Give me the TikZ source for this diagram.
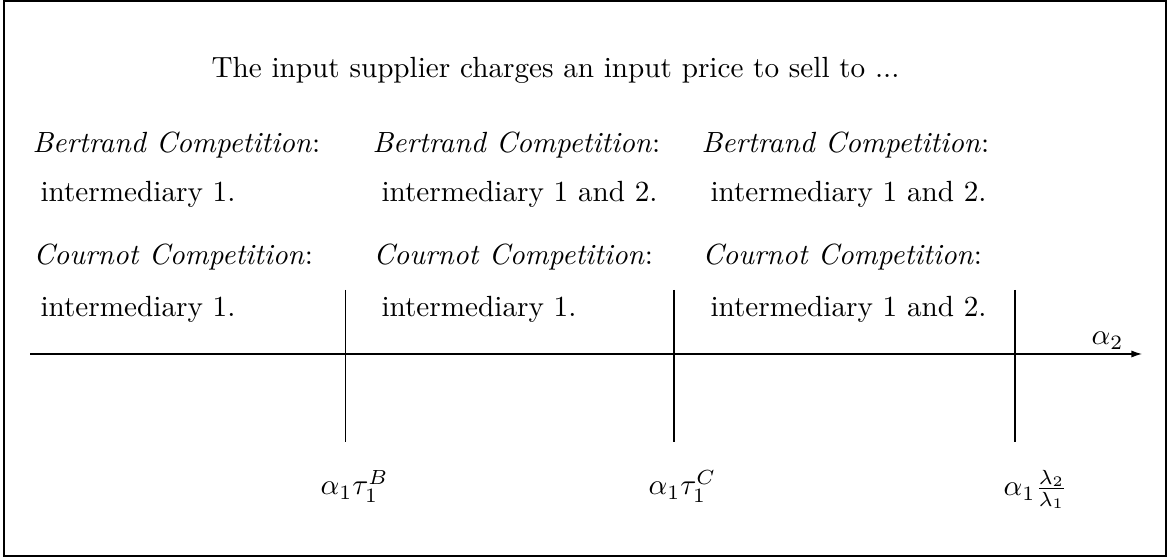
\documentclass[tikz,border=0pt]{standalone}
\usetikzlibrary{arrows.meta}
\begin{document}
\begin{tikzpicture}[x=0.34247pt,y=-0.34247pt,
  txt/.style={inner sep=0pt, anchor=base west},
  mth/.style={inner sep=0pt, anchor=base west},
  thin line/.style={line width=0.4pt},
  ]
\useasboundingbox (0,0) rectangle (1168,559);
\draw[thin line] (4,1) rectangle (1166,556);
% title
\node[inner sep=0pt, anchor=base] (title) at (555.5,78) {The input supplier charges an input price to sell to ...};
% column 1
\node[txt] (b1) at (32,153) {\textit{Bertrand Competition}:};
\node[txt] (b1t) at (40,202) {intermediary 1.};
\node[txt] (c1) at (33,265) {\textit{Cournot Competition}:};
\node[txt] (c1t) at (40,317) {intermediary 1.};
% column 2
\node[txt] (b2) at (372,153) {\textit{Bertrand Competition}:};
\node[txt] (b2t) at (381,202) {intermediary 1 and 2.};
\node[txt] (c2) at (373,265) {\textit{Cournot Competition}:};
\node[txt] (c2t) at (381,317) {intermediary 1.};
% column 3
\node[txt] (b3) at (701,153) {\textit{Bertrand Competition}:};
\node[txt] (b3t) at (710,202) {intermediary 1 and 2.};
\node[txt] (c3) at (702,265) {\textit{Cournot Competition}:};
\node[txt] (c3t) at (710,317) {intermediary 1 and 2.};
% axis
\coordinate (axL) at (30,354);
\coordinate (axR) at (1142,354);
\draw[thin line,-{Latex[length=3.6pt,width=2.4pt]}] (axL) -- (axR);
\node[mth] (a2) at (1091,345) {$\alpha_2$};
% vertical markers
\coordinate (v1t) at (345.5,290); \coordinate (v1b) at (345.5,442.5);
\coordinate (v2t) at (674,290);   \coordinate (v2b) at (674,442.5);
\coordinate (v3t) at (1015,290);  \coordinate (v3b) at (1015,442.5);
\draw[thin line] (v1t) -- (v1b);
\draw[thin line] (v2t) -- (v2b);
\draw[thin line] (v3t) -- (v3b);
% labels
\node[mth] (lB) at (320,495) {$\alpha_1\tau_1^B$};
\node[mth] (lC) at (648,495) {$\alpha_1\tau_1^C$};
\node[mth] (lL) at (1003,496) {$\alpha_1\frac{\lambda_2}{\lambda_1}$};
\end{tikzpicture}
\end{document}
